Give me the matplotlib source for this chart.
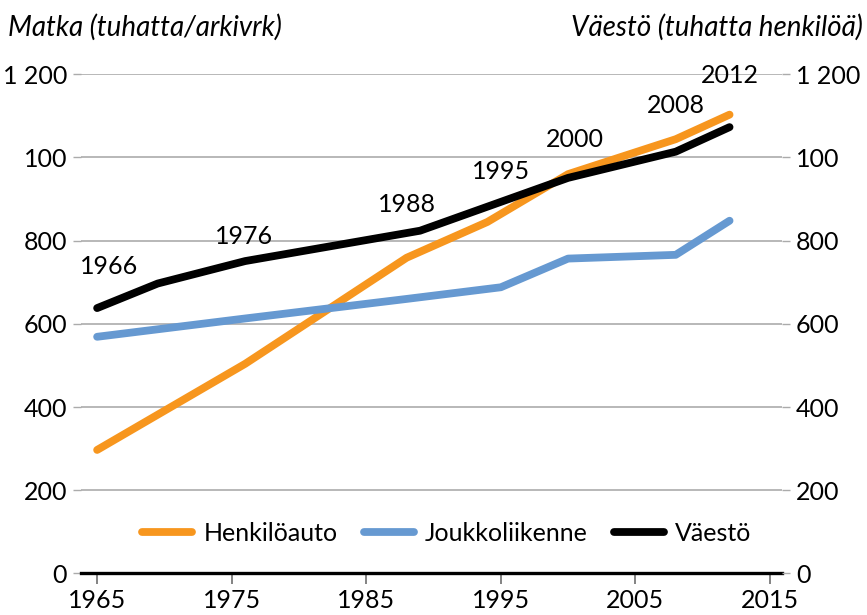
import matplotlib
matplotlib.use("Agg")
import matplotlib.pyplot as plt
from matplotlib.ticker import FixedLocator, FixedFormatter

plt.rcParams['font.family'] = ['Lato', 'DejaVu Sans']

# Trips (thousands per weekday) and population (thousands)
car_years = [1965, 1976, 1988, 1994, 2000, 2008, 2012]
car_trips = [297, 504, 759, 845, 960, 1044, 1103]

transit_years = [1965, 1976, 1988, 1995, 2000, 2008, 2012]
transit_trips = [569, 613, 660, 688, 757, 766, 848]

pop_years = [1965, 1969.5, 1976, 1989, 2000, 2008, 2012]
population = [638, 697, 751, 824, 951, 1014, 1073]

# Survey-year annotations and where they sit
survey_labels = ['1966', '1976', '1988', '1995', '2000', '2008', '2012']
survey_label_x = [1965.9, 1975.9, 1988.0, 1995.0, 2000.5, 2008.0, 2012.0]
survey_label_y = [739, 809, 888, 967, 1044, 1124, 1198]

series_names = ['Henkilöauto', 'Joukkoliikenne', 'Väestö']
y_ticks = [0, 200, 400, 600, 800, 1000, 1200]
y_tick_labels = ['0', '200', '400', '600', '800', '100', '1 200']
x_ticks = [1965, 1975, 1985, 1995, 2005, 2015]

ORANGE = '#F7961E'
BLUE = '#6699D1'
BLACK = '#000000'
GRID = '#ABABAB'

FS = 18

fig = plt.figure(figsize=(8.67, 6.15), dpi=100)
ax = fig.add_axes([0.0934, 0.0675, 0.8086, 0.8117])
ax2 = ax.twinx()

lw = 5.6
ax.plot(car_years, car_trips, color=ORANGE, lw=lw, solid_capstyle='round',
        solid_joinstyle='round', label=series_names[0], zorder=3)
ax.plot(transit_years, transit_trips, color=BLUE, lw=lw, solid_capstyle='round',
        solid_joinstyle='round', label=series_names[1], zorder=3)
ax.plot(pop_years, population, color=BLACK, lw=lw, solid_capstyle='round',
        solid_joinstyle='round', label=series_names[2], zorder=4)

for txt, x, y in zip(survey_labels, survey_label_x, survey_label_y):
    ax.text(x, y, txt, ha='center', va='center', fontsize=FS, color='black', zorder=5)

xlim = (1963.8, 2015.9)
for a in (ax, ax2):
    a.set_xlim(*xlim)
    a.set_ylim(0, 1200)
    for s in a.spines.values():
        s.set_visible(False)

ax.yaxis.set_major_locator(FixedLocator(y_ticks))
ax.yaxis.set_major_formatter(FixedFormatter(y_tick_labels))
ax2.yaxis.set_major_locator(FixedLocator(y_ticks))
ax2.yaxis.set_major_formatter(FixedFormatter(y_tick_labels))

ax.grid(axis='y', color=GRID, lw=1.2, zorder=0)
ax.set_axisbelow(True)
ax.tick_params(axis='y', length=6, width=1.0, color=GRID, labelsize=FS, pad=4)
ax2.tick_params(axis='y', length=6, width=1.0, color=GRID, labelsize=FS, pad=4)

ax.set_xticks(x_ticks)
ax.set_xticklabels([str(v) for v in x_ticks])
ax.tick_params(axis='x', length=8, width=1.2, color='#6E6E6E', labelsize=FS, pad=3)

# Zero baseline
ax.axhline(0, color=BLACK, lw=2.4, zorder=2, clip_on=False)

leg = ax.legend(loc='center', bbox_to_anchor=(0.522, 0.081), ncol=3, frameon=False,
                fontsize=FS, handlelength=2.0, handletextpad=0.45, columnspacing=1.05)

fig.text(0.009, 0.955, 'Matka (tuhatta/arkivrk)', fontsize=20, style='italic',
         ha='left', va='center')
fig.text(0.995, 0.955, 'Väestö (tuhatta henkilöä)', fontsize=20, style='italic',
         ha='right', va='center')

fig.savefig('out.png', dpi=100)
